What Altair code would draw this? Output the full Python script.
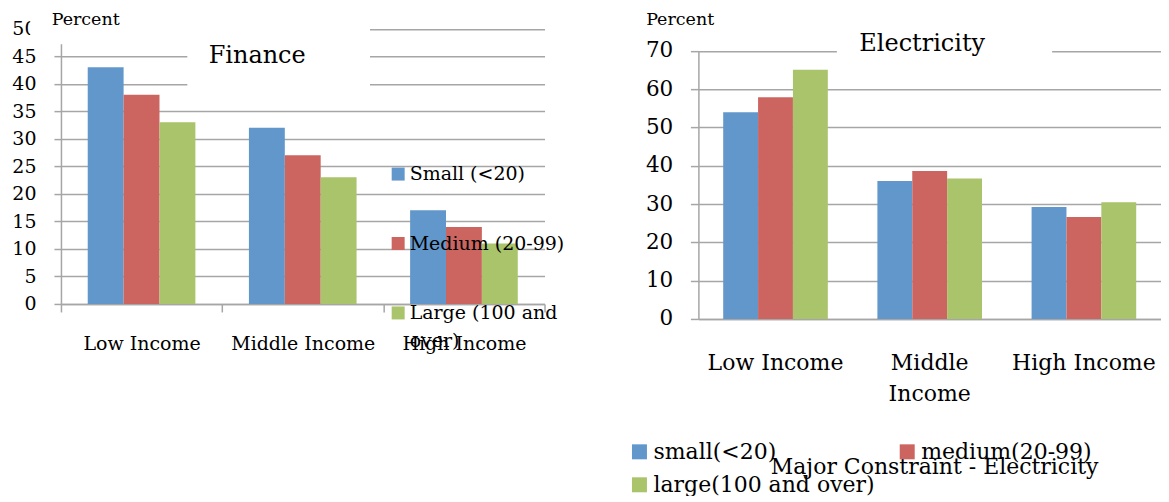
import altair as alt
import pandas as pd

# ---------------- data ----------------
categories = ["Low Income", "Middle Income", "High Income"]

finance_sizes = ["Small (<20)", "Medium (20-99)", "Large (100 and over)"]
finance_small = [43, 32, 17]
finance_medium = [38, 27, 14]
finance_large = [33, 23, 11]

elec_sizes = ["small(<20)", "medium(20-99)", "large(100 and over)"]
elec_small = [54, 36, 29.2]
elec_medium = [57.9, 38.6, 26.6]
elec_large = [65.1, 36.7, 30.5]

finance_ticks = [0, 5, 10, 15, 20, 25, 30, 35, 40, 45, 50]
elec_ticks = [0, 10, 20, 30, 40, 50, 60, 70]

colors = ["#6197CB", "#CC6560", "#A9C46B"]

FONT = "DejaVu Serif"
GRID = "#A6A6A6"


def long_table(sizes, series):
    rows = []
    for s, vals in zip(sizes, series):
        for c, v in zip(categories, vals):
            rows.append({"category": c, "size": s, "value": v})
    return pd.DataFrame(rows)


fin_df = long_table(finance_sizes, [finance_small, finance_medium, finance_large])
ele_df = long_table(elec_sizes, [elec_small, elec_medium, elec_large])
blank = pd.DataFrame({"k": [0]})


def rect(x, x2, y, y2, opacity=1.0):
    return alt.Chart(blank).mark_rect(color="white", opacity=opacity).encode(
        x=alt.value(x), x2=alt.value(x2), y=alt.value(y), y2=alt.value(y2)
    )


def label(text, x, y, size, align="center", baseline="middle"):
    return alt.Chart(blank).mark_text(
        text=text, font=FONT, fontSize=size, align=align, baseline=baseline, color="black"
    ).encode(x=alt.value(x), y=alt.value(y))


# ---------------- Finance panel ----------------
fin_bars = alt.Chart(fin_df).mark_bar().encode(
    x=alt.X(
        "category:N", sort=categories,
        scale=alt.Scale(paddingInner=0, paddingOuter=0),
        axis=alt.Axis(title=None, labelAngle=0, tickBand="extent", ticks=True, tickSize=8,
                      tickColor=GRID, tickWidth=1.5, domainColor=GRID, domainWidth=1.5,
                      labelFont=FONT, labelFontSize=19, labelColor="black", labelPadding=23,
                      labelOverlap=False, grid=False),
    ),
    xOffset=alt.XOffset("size:N", sort=finance_sizes,
                        scale=alt.Scale(paddingInner=0, paddingOuter=0.746)),
    y=alt.Y(
        "value:Q",
        scale=alt.Scale(domain=[0, 50], range=[296, 20.5], nice=False),
        axis=alt.Axis(title=None, values=finance_ticks, grid=True, gridColor=GRID, gridWidth=1.5,
                      tickSize=7, tickColor=GRID, tickWidth=1.5, domainColor=GRID, domainWidth=1.5,
                      labelFont=FONT, labelFontSize=19, labelColor="black", labelPadding=18),
    ),
    color=alt.Color(
        "size:N", sort=finance_sizes,
        scale=alt.Scale(domain=finance_sizes, range=colors),
        legend=alt.Legend(title=None, orient="none", legendX=328, legendY=156.5,
                          symbolType="square", symbolSize=169, symbolStrokeWidth=0,
                          labelFont=FONT, labelFontSize=19, labelColor="black", labelOffset=2,
                          rowPadding=49.5, labelLimit=400, padding=0,
                          labelExpr="datum.label == 'Large (100 and over)' ? ['Large (100 and', 'over)'] : datum.label"),
    ),
)

finance = alt.layer(
    fin_bars,
    rect(-30.8, 309.3, 0, 36),
    rect(126.5, 309.3, 36, 87),
    rect(-52.3, -51.3, 150, 151, opacity=0),
    label("Finance", 196.4, 48, 24),
    label("Percent", -9.3, 11.5, 17.5, align="left"),
).properties(width=484, height=296)

# ---------------- Electricity panel ----------------
ele_bars = alt.Chart(ele_df).mark_bar().encode(
    x=alt.X(
        "category:N", sort=categories,
        scale=alt.Scale(paddingInner=0, paddingOuter=0),
        axis=alt.Axis(title=None, labelAngle=0, ticks=False, domainColor=GRID, domainWidth=1.5,
                      labelFont=FONT, labelFontSize=22, labelColor="black", labelPadding=34,
                      labelLineHeight=31, labelOverlap=False, grid=False,
                      labelExpr="datum.label == 'Middle Income' ? ['Middle', 'Income'] : datum.label"),
    ),
    xOffset=alt.XOffset("size:N", sort=elec_sizes,
                        scale=alt.Scale(paddingInner=0, paddingOuter=0.711)),
    y=alt.Y(
        "value:Q",
        scale=alt.Scale(domain=[0, 70], range=[311, 42.7], nice=False),
        axis=alt.Axis(title=None, values=elec_ticks, grid=True, gridColor=GRID, gridWidth=1.5,
                      tickSize=8, tickColor=GRID, tickWidth=1.5, domainColor=GRID, domainWidth=1.5,
                      labelFont=FONT, labelFontSize=21.5, labelColor="black", labelPadding=17.7),
    ),
    color=alt.Color(
        "size:N", sort=elec_sizes,
        scale=alt.Scale(domain=elec_sizes, range=colors),
        legend=alt.Legend(title=None, orient="none", legendX=-70, legendY=433, columns=2,
                          direction="horizontal",
                          symbolType="square", symbolSize=225, symbolStrokeWidth=0,
                          labelFont=FONT, labelFontSize=22, labelColor="black", labelOffset=3,
                          rowPadding=11, columnPadding=21, labelLimit=400, padding=0),
    ),
)

electricity = alt.layer(
    ele_bars,
    rect(138.6, 354, 17, 57),
    label("Electricity", 224, 35.5, 24),
    label("Percent", -52.3, 11.5, 17.5, align="left"),
    label("Major Constraint - Electricity", 236.4, 466, 22, baseline="alphabetic"),
).properties(width=463, height=311)

chart = alt.hconcat(finance, electricity, spacing=154, bounds="flush").resolve_scale(
    x="independent", y="independent", xOffset="independent", color="independent"
).properties(padding=0).configure(
    view=alt.ViewConfig(stroke=None),
    style={"guide-label": {"lineHeight": 28}},
)

chart.save("out.html", embed_options={"renderer": "svg", "actions": False})
